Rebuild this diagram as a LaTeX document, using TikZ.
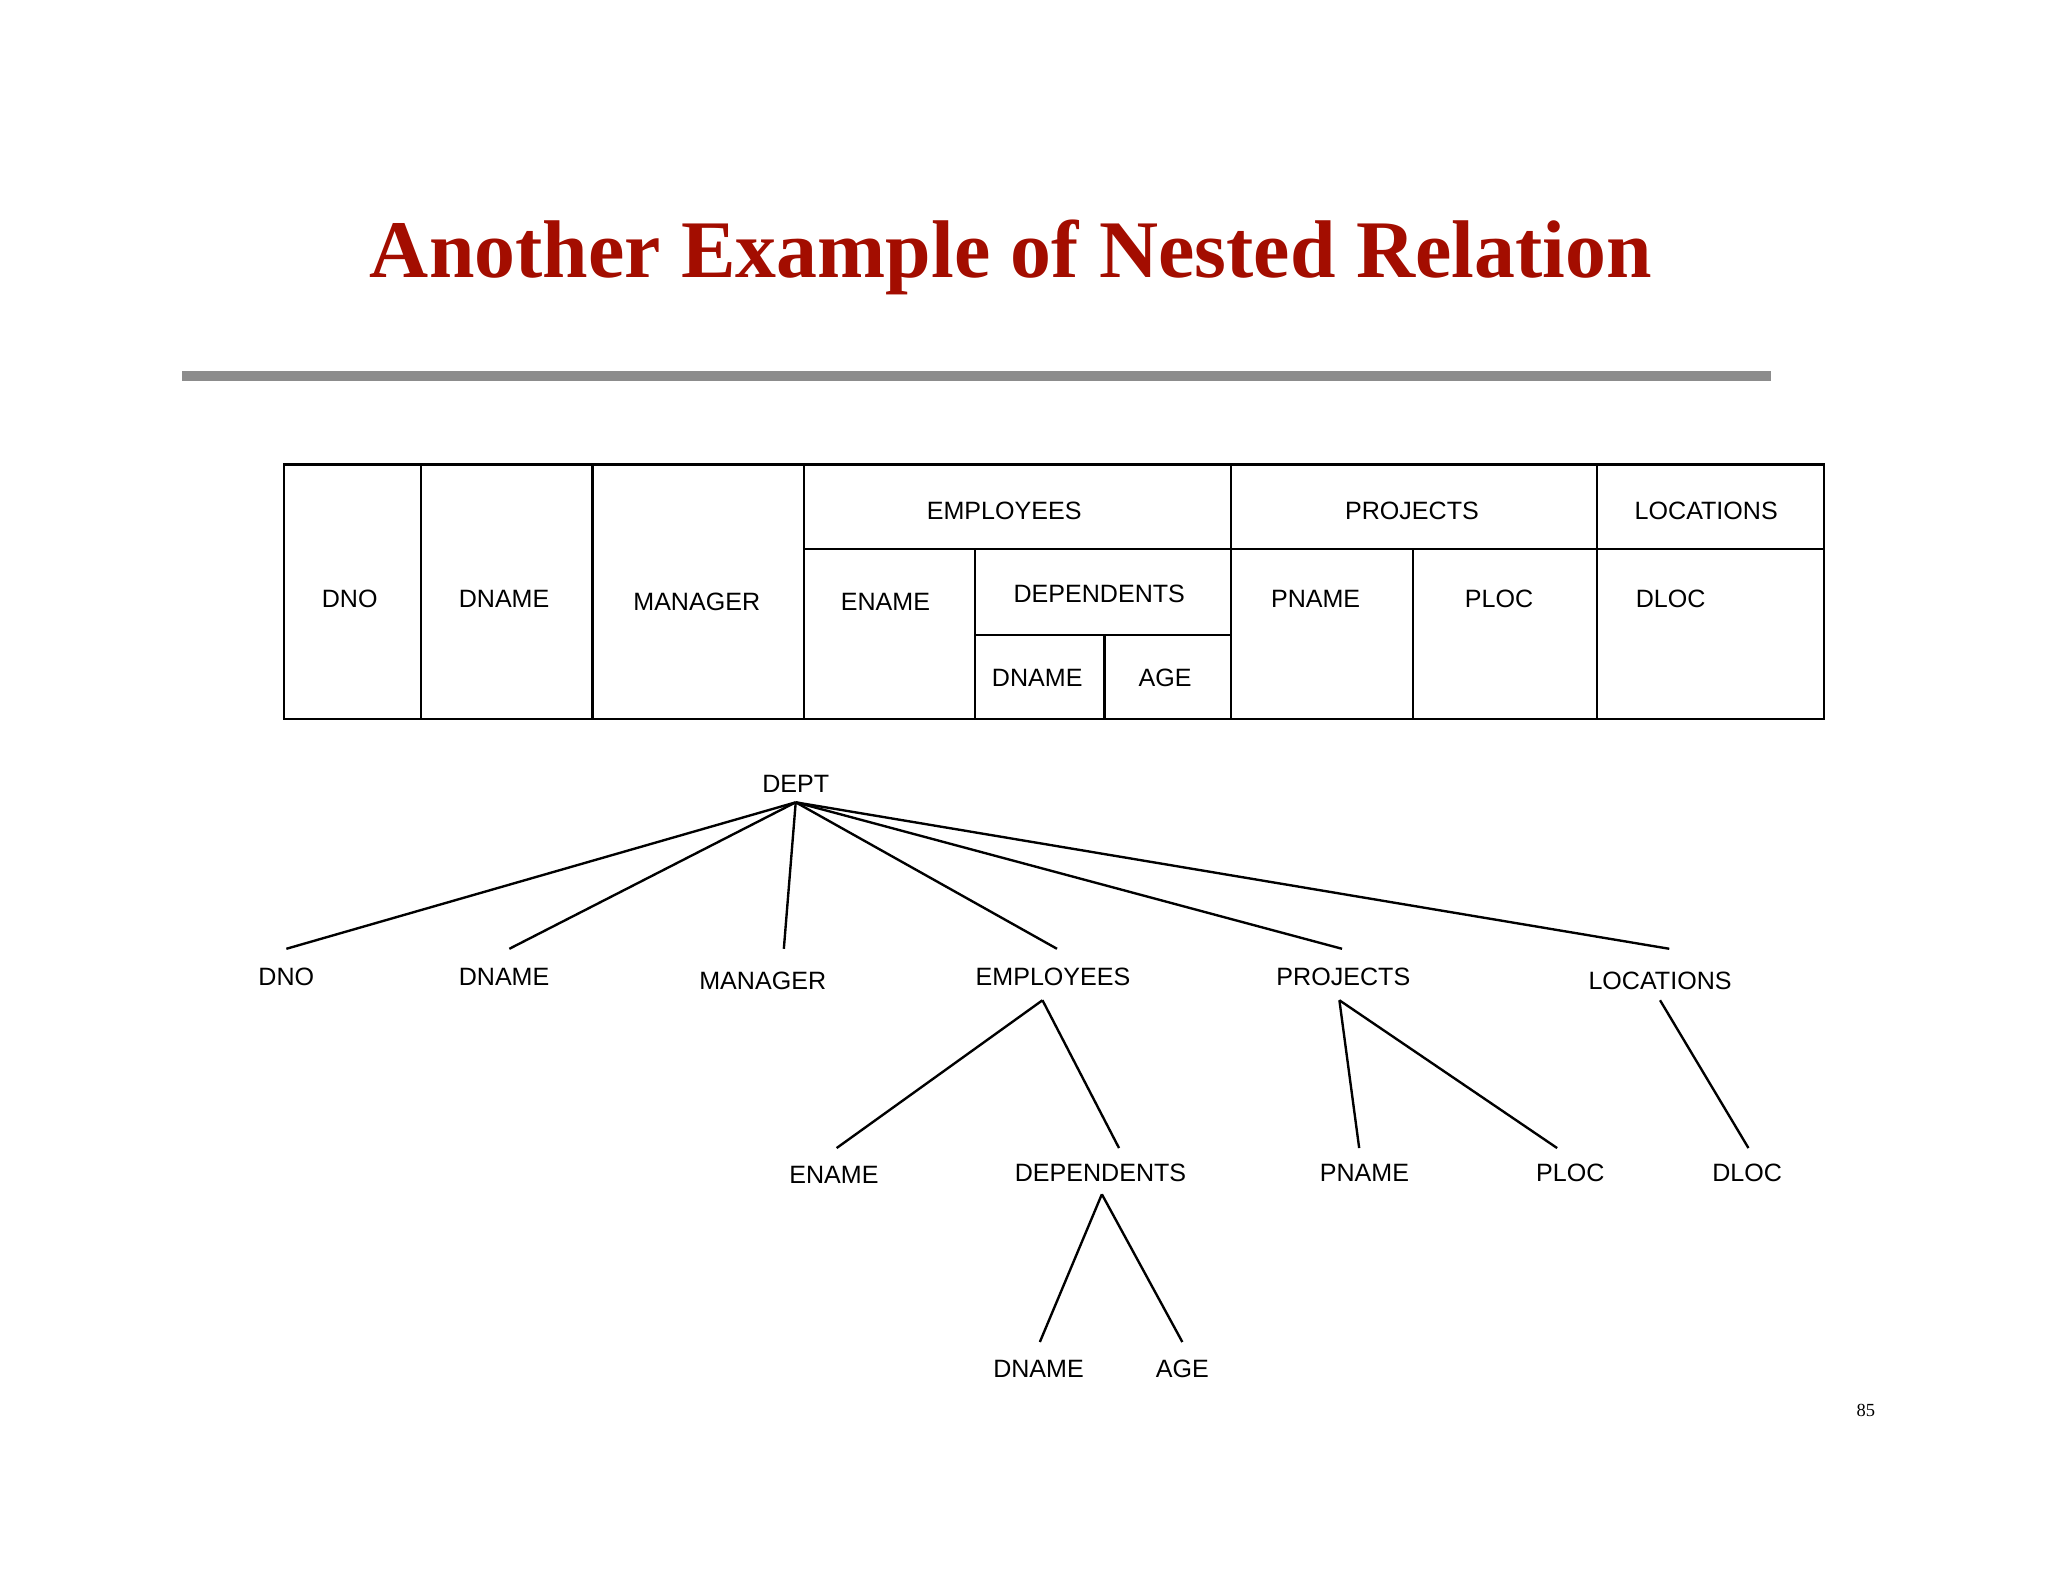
\documentclass[tikz,border=0pt]{standalone}
\usepackage{fontspec}
\setmainfont{Liberation Serif}
\newfontfamily\lab{Liberation Sans}
\begin{document}
\begin{tikzpicture}[x=1pt,y=-1pt,
  lbl/.style={font=\lab\fontsize{19}{21}\selectfont,inner sep=0pt},
  tb/.style={line width=1.6pt},
  br/.style={line width=1.8pt}]
\useasboundingbox (0,0) rectangle (1552,1199);
\node[font=\bfseries\fontsize{62}{70}\selectfont,text=red!60!black!90!orange] (title) at (766,195) {Another Example of Nested Relation};
\draw[line width=8pt,gray!90] (138,285) -- (1342,285);
% table
\draw[tb] (215,352) rectangle (1382,545);
\foreach \x in {319,449,609,933,1210} \draw[tb] (\x,352) -- (\x,545);
\draw[tb] (609,416) -- (1382,416);
\draw[tb] (739,416) -- (739,545);
\draw[tb] (739,481) -- (933,481);
\draw[tb] (837,481) -- (837,545);
\draw[tb] (1071,416) -- (1071,545);
\node[lbl] (tEMP) at (761,387) {EMPLOYEES};
\node[lbl] (tPRJ) at (1070,387) {PROJECTS};
\node[lbl] (tLOC) at (1293,387) {LOCATIONS};
\node[lbl] (tDNO) at (265,454) {DNO};
\node[lbl] (tDNAME) at (382,454) {DNAME};
\node[lbl] (tMGR) at (528,456) {MANAGER};
\node[lbl] (tENAME) at (671,456) {ENAME};
\node[lbl] (tDEP) at (833,450) {DEPENDENTS};
\node[lbl] (tDDN) at (786,514) {DNAME};
\node[lbl] (tAGE) at (883,514) {AGE};
\node[lbl] (tPN) at (997,454) {PNAME};
\node[lbl] (tPL) at (1136,454) {PLOC};
\node[lbl] (tDL) at (1266,454) {DLOC};
% tree
\node[lbl] (dept) at (603,594) {DEPT};
\node[lbl] (dno) at (217,740) {DNO};
\node[lbl] (dname) at (382,740) {DNAME};
\node[lbl] (mgr) at (578,743) {MANAGER};
\node[lbl] (emp) at (798,740) {EMPLOYEES};
\node[lbl] (prj) at (1018,740) {PROJECTS};
\node[lbl] (loc) at (1258,743) {LOCATIONS};
\node[lbl] (ename) at (632,890) {ENAME};
\node[lbl] (dep) at (834,889) {DEPENDENTS};
\node[lbl] (pname) at (1034,889) {PNAME};
\node[lbl] (ploc) at (1190,889) {PLOC};
\node[lbl] (dloc) at (1324,889) {DLOC};
\node[lbl] (ddname) at (787,1037) {DNAME};
\node[lbl] (age) at (896,1037) {AGE};
\coordinate (deptB) at (603,608);
\coordinate (dnoT) at (217,719);
\coordinate (dnameT) at (386,719);
\coordinate (mgrT) at (594,719);
\coordinate (empT) at (801,719);
\coordinate (prjT) at (1017,719);
\coordinate (locT) at (1265,719);
\coordinate (empB) at (790,758);
\coordinate (enameT) at (634,870);
\coordinate (depT) at (848,870);
\coordinate (prjB) at (1015,758);
\coordinate (pnameT) at (1030,870);
\coordinate (plocT) at (1180,870);
\coordinate (locB) at (1258,758);
\coordinate (dlocT) at (1325,870);
\coordinate (depB) at (835,905);
\coordinate (ddnameT) at (788,1017);
\coordinate (ageT) at (896,1017);
\foreach \c in {dnoT,dnameT,mgrT,empT,prjT,locT} \draw[br] (deptB) -- (\c);
\draw[br] (empB) -- (enameT); \draw[br] (empB) -- (depT);
\draw[br] (prjB) -- (pnameT); \draw[br] (prjB) -- (plocT);
\draw[br] (locB) -- (dlocT);
\draw[br] (depB) -- (ddnameT); \draw[br] (depB) -- (ageT);
\node[font=\fontsize{14}{16}\selectfont] (pg) at (1414,1069) {85};
\end{tikzpicture}
\end{document}
